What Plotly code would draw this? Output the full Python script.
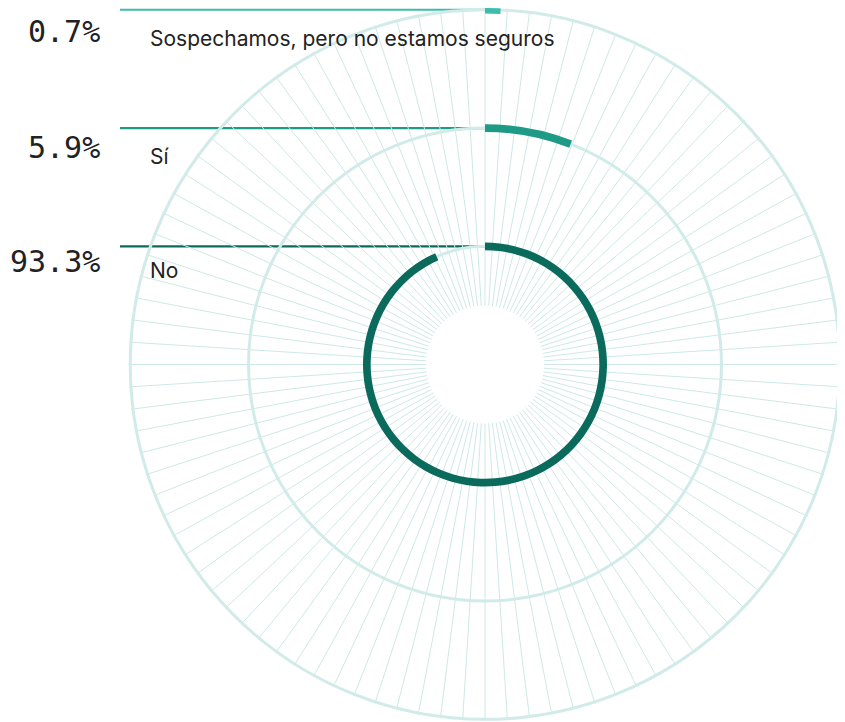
import plotly.graph_objects as go

# data: share of answers, outer ring -> inner ring
categories = ["Sospechamos, pero no estamos seguros", "Sí", "No"]
values = [0.7, 5.9, 93.3]
ring_levels = [2.5, 1.5, 0.5]
colors = ["#3cbcaa", "#1f9a86", "#0a6b5c"]
spoke_step = 1.0  # one spoke per percent

GRID = "#d0ebe8"
SPOKE = "#cde9e6"
TEXT = "#222222"

# the page body adds an 8px margin, so the figure is drawn 8px in
OFF = 8
W, H = 845 - OFF, 722 - OFF
CX, CY = 485 - OFF, 364.5 - OFF
R_PX = 356.5
HOLE_PX = 59
PX_PER_UNIT = 118.3
BAR_T = 0.065

rmax = (R_PX - HOLE_PX) / PX_PER_UNIT

fig = go.Figure()

# leader lines on a cartesian overlay measured in pixels from the centre
for lvl, col in zip(ring_levels, colors):
    y = HOLE_PX + lvl * PX_PER_UNIT
    fig.add_trace(go.Scatter(
        x=[-(CX - (120 - OFF)), 0], y=[y, y], mode="lines",
        line=dict(color=col, width=2.2), hoverinfo="skip", showlegend=False,
    ))

# ring bars
for cat, v, lvl, col in zip(categories, values, ring_levels, colors):
    fig.add_trace(go.Barpolar(
        theta=[v * 3.6 / 2], width=[v * 3.6],
        r=[BAR_T], base=[lvl - BAR_T / 2],
        marker=dict(color=col, line=dict(width=0)),
        name=cat, showlegend=False,
        hovertemplate=f"{cat}: {v}%<extra></extra>",
    ))

fig.update_layout(
    width=W, height=H,
    paper_bgcolor="white", plot_bgcolor="rgba(0,0,0,0)",
    margin=dict(l=0, r=0, t=0, b=0),
    polar=dict(
        domain=dict(
            x=[max(0, (CX - R_PX) / W), min(1, (CX + R_PX) / W)],
            y=[max(0, (H - CY - R_PX) / H), min(1, (H - CY + R_PX) / H)],
        ),
        bgcolor="rgba(0,0,0,0)",
        hole=HOLE_PX / R_PX,
        radialaxis=dict(
            range=[0, rmax], tickvals=ring_levels, showticklabels=False, ticks="",
            showline=False, gridcolor=GRID, gridwidth=3,
        ),
        angularaxis=dict(
            rotation=90, direction="clockwise", tick0=0, dtick=spoke_step * 3.6,
            showticklabels=False, ticks="", showline=False,
            gridcolor=SPOKE, gridwidth=1.2,
        ),
    ),
    xaxis=dict(domain=[0, 1], range=[-CX, W - CX], visible=False, fixedrange=True),
    yaxis=dict(domain=[0, 1], range=[-(H - CY), CY], visible=False, fixedrange=True),
)

pct_y = [31, 147, 261]
cat_y = [38, 156, 270]
for cat, v, py, cy in zip(categories, values, pct_y, cat_y):
    fig.add_annotation(
        x=102 - OFF - CX, y=CY - (py - OFF), xref="x", yref="y", text=f"{v:.1f}%",
        xanchor="right", yanchor="middle", showarrow=False,
        font=dict(family="DejaVu Sans Mono, monospace", size=30, color=TEXT),
    )
    fig.add_annotation(
        x=148 - OFF - CX, y=CY - (cy - OFF), xref="x", yref="y", text=cat,
        xanchor="left", yanchor="middle", showarrow=False,
        font=dict(family="Inter, Roboto, sans-serif", size=21, color=TEXT),
    )

fig.write_html("out.html")
